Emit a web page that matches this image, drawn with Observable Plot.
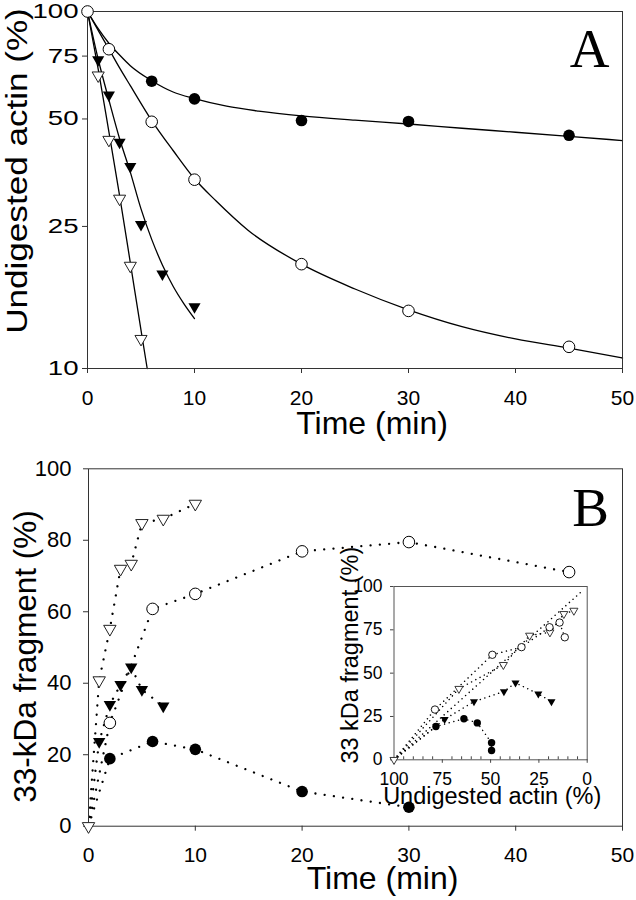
<!DOCTYPE html>
<html><head><meta charset="utf-8">
<script src="https://cdn.jsdelivr.net/npm/d3@7"></script>
<script src="https://cdn.jsdelivr.net/npm/@observablehq/plot@0.6"></script>
<style>
html,body{margin:0;padding:0;background:#fff;}
#wrap{position:relative;width:636px;height:900px;overflow:hidden;background:#fff;}
#a{position:absolute;left:0;top:0;}
#b{position:absolute;left:0;top:450px;}
#inset{position:absolute;left:330px;top:540px;}
</style></head><body>
<div id="wrap"><div id="a"></div><div id="b"></div><div id="inset"></div></div>
<script>
// ---------- Panel A : undigested actin (%) vs time (min), log scale ----------
const timeA_fc = [6, 10, 20, 30, 45];
const undigA_fc = [63.8, 56.9, 49.5, 49.2, 45.0];
const timeA_oc = [0, 2, 6, 10, 20, 30, 45];
const undigA_oc = [100, 78.4, 49.1, 33.8, 19.6, 14.5, 11.5];
const timeA_ft = [1, 2, 3, 4, 5, 7, 10];
const undigA_ft = [73.2, 58.4, 43.0, 36.8, 25.3, 18.4, 14.9];
const timeA_ot = [1, 2, 3, 4, 5];
const undigA_ot = [66.2, 43.7, 29.9, 19.4, 12.1];

// fitted curves
const fitT_fc = [0, 1, 2, 3, 4, 6, 8, 10, 13, 16, 20, 25, 30, 35, 40, 45, 50];
const fitY_fc = [100, 89.5, 81.5, 75.5, 70.5, 64, 59.5, 57, 54.3, 52.6, 51, 49.6, 48.4, 47.1, 45.9, 44.7, 43.5];
const fitT_oc = [0, 1, 2, 3, 4, 6, 8, 10, 12, 15, 20, 25, 30, 35, 40, 45, 50];
const fitY_oc = [100, 88.5, 78.5, 69.5, 62, 49.5, 40.8, 34, 29.5, 24.4, 19.6, 16.7, 14.6, 13.1, 12.1, 11.4, 10.7];
const fitT_ft = [0, 1, 2, 3, 4, 5, 6, 7, 8, 9, 10];
const fitY_ft = [100, 73.5, 56.5, 44, 35.5, 28, 23, 19.5, 17, 15.2, 13.8];
const fitT_ot = [0, 1, 2, 3, 4, 5, 5.58];
const fitY_ot = [100, 69, 46, 30.5, 19.8, 12.8, 10];

const xTicks = [0, 10, 20, 30, 40, 50];
const yTicksA = [10, 25, 50, 75, 100];

// ---------- Panel B : 33-kDa fragment (%) vs time (min) ----------
const timeB_ot = [0, 1, 2, 3, 4, 5, 7, 10];
const fragB_ot = [0, 40.8, 55.2, 72, 73.4, 84.8, 86, 90.2];
const timeB_oc = [0, 2, 6, 10, 20, 30, 45];
const fragB_oc = [0, 28.9, 60.8, 65, 76.9, 79.5, 71.1];
const timeB_ft = [0, 1, 2, 3, 4, 5, 7];
const fragB_ft = [0, 23.7, 34, 39.6, 44.5, 38.2, 33.6];
const timeB_fc = [0, 2, 6, 10, 20, 30];
const fragB_fc = [0, 18.9, 23.7, 21.5, 9.7, 5.3];
const yTicksB = [0, 20, 40, 60, 80, 100];

// ---------- Inset : 33 kDa fragment (%) vs undigested actin (%) ----------
const insUndig_ot = [100, 66.4, 43.4, 29.8, 19.3, 12.1, 6.9];
const insFrag_ot = [0, 41, 54.8, 71.7, 73.6, 84.2, 86.1];
const insUndig_oc = [100, 78.8, 49.1, 34, 19.5, 14.3, 11.6];
const insFrag_oc = [0, 29, 60.6, 65, 76.5, 79.2, 70.7];
const insUndig_ft = [100, 73.8, 58.6, 43.1, 37.1, 25.3, 18.5];
const insFrag_ft = [0, 23.4, 33.6, 39.4, 44.4, 38, 33.6];
const insUndig_fc = [100, 78.3, 63.8, 56.9, 49.5, 49.5];
const insFrag_fc = [0, 19.2, 23.7, 21.3, 9.8, 5.4];
const insDiagUndig = [100, 2.5];
const insDiagFrag = [0, 97.5];
const insTicks = [0, 25, 50, 75, 100];
const insMinorTicks = [5, 10, 15, 20, 30, 35, 40, 45, 55, 60, 65, 70, 80, 85, 90, 95];

// ---------- helpers ----------
const pts = (xs, ys) => xs.map((x, i) => ({x, y: ys[i]}));
const triDown = {
  draw(ctx, size) {
    const y = Math.sqrt(size / (3 * Math.sqrt(3)));
    ctx.moveTo(0, 2 * y);
    ctx.lineTo(-Math.sqrt(3) * y, -y);
    ctx.lineTo(Math.sqrt(3) * y, -y);
    ctx.closePath();
  }
};
const FONT = "'Liberation Sans', Arial, Helvetica, sans-serif";
const SERIF = "'Liberation Serif', 'Times New Roman', serif";
const baseStyle = {fontFamily: FONT, fontSize: "21px", color: "black", background: "white"};

function markers(fc, oc, ft, ot, rc, rt, sw) {
  return [
    Plot.dot(fc, {x: "x", y: "y", r: rc, fill: "black", stroke: "none"}),
    Plot.dot(ft, {x: "x", y: "y", r: rt, symbol: triDown, fill: "black", stroke: "none"}),
    Plot.dot(ot, {x: "x", y: "y", r: rt, symbol: triDown, fill: "white", stroke: "#222", strokeWidth: sw}),
    Plot.dot(oc, {x: "x", y: "y", r: rc, fill: "white", stroke: "black", strokeWidth: sw})
  ];
}

// ---------- Panel A ----------
const plotA = Plot.plot({
  width: 636, height: 450,
  marginLeft: 87, marginRight: 14, marginTop: 11, marginBottom: 82,
  style: baseStyle,
  x: {domain: [0, 50]},
  y: {type: "log", domain: [10, 100]},
  marks: [
    Plot.line(pts(fitT_fc, fitY_fc), {x: "x", y: "y", curve: "monotone-x", stroke: "black", strokeWidth: 1.3}),
    Plot.line(pts(fitT_oc, fitY_oc), {x: "x", y: "y", curve: "monotone-x", stroke: "black", strokeWidth: 1.3}),
    Plot.line(pts(fitT_ft, fitY_ft), {x: "x", y: "y", curve: "monotone-x", stroke: "black", strokeWidth: 1.3}),
    Plot.line(pts(fitT_ot, fitY_ot), {x: "x", y: "y", curve: "monotone-x", stroke: "black", strokeWidth: 1.3}),
    Plot.frame({stroke: "#333", strokeWidth: 1}),
    Plot.axisX(xTicks, {tickSize: 5, tickPadding: 17, fontSize: 21, stroke: "#333", label: null, tickFormat: d => String(d)}),
    Plot.axisY(yTicksA, {tickSize: 5, tickPadding: 4, fontSize: 20, stroke: "#333", label: null, tickFormat: d => String(d)}),
    ...markers(pts(timeA_fc, undigA_fc), pts(timeA_oc, undigA_oc), pts(timeA_ft, undigA_ft), pts(timeA_ot, undigA_ot), 5.8, 4.5, 1),
    Plot.text(["Undigested actin (%)"], {frameAnchor: "left", textAnchor: "middle", rotate: -90, dx: -70, dy: -19, fontSize: 30, fill: "black"}),
    Plot.text(["Time (min)"], {frameAnchor: "bottom", textAnchor: "middle", lineAnchor: "top", dx: 17, dy: 43, fontSize: 32, fill: "black"}),
    Plot.text(["A"], {frameAnchor: "top-right", textAnchor: "end", lineAnchor: "top", dx: -13, dy: 16.7, fontSize: 55, fontFamily: SERIF, fill: "black"})
  ]
});

// ---------- Panel B ----------
const dotted = {stroke: "black", strokeWidth: 2.3, strokeDasharray: "0.01,9.3", strokeLinecap: "round"};
const nz = d => d.x > 0;
const plotB = Plot.plot({
  width: 636, height: 450,
  marginLeft: 88, marginRight: 14, marginTop: 18.3, marginBottom: 74.3,
  style: baseStyle,
  x: {domain: [0, 50]},
  y: {domain: [0, 100]},
  marks: [
    Plot.line(pts(timeB_ot, fragB_ot), {x: "x", y: "y", ...dotted}),
    Plot.line(pts(timeB_oc, fragB_oc), {x: "x", y: "y", ...dotted}),
    Plot.line(pts(timeB_ft, fragB_ft), {x: "x", y: "y", ...dotted}),
    Plot.line(pts(timeB_fc, fragB_fc), {x: "x", y: "y", ...dotted}),
    Plot.frame({stroke: "#333", strokeWidth: 1}),
    Plot.axisX(xTicks, {tickSize: 5, tickPadding: 16, fontSize: 21, stroke: "#333", label: null, tickFormat: d => String(d)}),
    Plot.axisY(yTicksB, {tickSize: 5, tickPadding: 12, fontSize: 22, stroke: "#333", label: null, tickFormat: d => String(d)}),
    ...markers(pts(timeB_fc, fragB_fc).filter(nz), pts(timeB_oc, fragB_oc).filter(nz), pts(timeB_ft, fragB_ft).filter(nz), pts(timeB_ot, fragB_ot), 5.8, 4.6, 1),
    Plot.text(["33-kDa fragment (%)"], {frameAnchor: "left", textAnchor: "middle", rotate: -90, dx: -63, dy: 9, fontSize: 31.5, fill: "black"}),
    Plot.text(["Time (min)"], {frameAnchor: "bottom", textAnchor: "middle", lineAnchor: "top", dx: 27, dy: 39.6, fontSize: 32, fill: "black"}),
    Plot.text(["B"], {frameAnchor: "top-right", textAnchor: "end", lineAnchor: "top", dx: -13.5, dy: 17.7, fontSize: 55, fontFamily: SERIF, fill: "black"})
  ]
});

// ---------- Inset ----------
const dottedI = {stroke: "black", strokeWidth: 1.5, strokeDasharray: "0.01,4.8", strokeLinecap: "round"};
const plotI = Plot.plot({
  width: 280, height: 270,
  marginLeft: 63.5, marginRight: 23.3, marginTop: 46, marginBottom: 50.7,
  style: {...baseStyle, background: "transparent", fontSize: "17px"},
  x: {domain: [100, 0]},
  y: {domain: [0, 100]},
  marks: [
    Plot.line(pts(insDiagUndig, insDiagFrag), {x: "x", y: "y", ...dottedI}),
    Plot.line(pts(insUndig_ot, insFrag_ot), {x: "x", y: "y", ...dottedI}),
    Plot.line(pts(insUndig_oc, insFrag_oc), {x: "x", y: "y", ...dottedI}),
    Plot.line(pts(insUndig_ft, insFrag_ft), {x: "x", y: "y", ...dottedI}),
    Plot.line(pts(insUndig_fc, insFrag_fc), {x: "x", y: "y", ...dottedI}),
    Plot.frame({stroke: "#555", strokeWidth: 1}),
    Plot.tickX(insMinorTicks, {x: d => d, insetTop: 170.3, stroke: "#444", strokeWidth: 1}),
    Plot.axisX(insTicks, {tickSize: 3.5, tickPadding: 9, fontSize: 17.5, stroke: "#444", label: null, tickFormat: d => String(d)}),
    Plot.axisY(insTicks, {tickSize: 3.5, tickPadding: 8, fontSize: 17.5, stroke: "#444", label: null, tickFormat: d => String(d)}),
    ...markers(pts(insUndig_fc, insFrag_fc).filter(d => d.x < 100), pts(insUndig_oc, insFrag_oc).filter(d => d.x < 100), pts(insUndig_ft, insFrag_ft).filter(d => d.x < 100), pts(insUndig_ot, insFrag_ot), 3.7, 3, 0.9),
    Plot.text(["33 kDa fragment (%)"], {frameAnchor: "left", textAnchor: "middle", rotate: -90, dx: -43.5, dy: -18, fontSize: 23.5, fill: "black"}),
    Plot.text(["Undigested actin (%)"], {frameAnchor: "bottom", textAnchor: "middle", lineAnchor: "top", dx: 1.6, dy: 28, fontSize: 23.5, fill: "black"})
  ]
});

document.getElementById("a").appendChild(plotA);
document.getElementById("b").appendChild(plotB);
document.getElementById("inset").appendChild(plotI);

// Stretch texts as in the original (panel A y tick labels wider, panel A y title longer):
// wrap each text in a <g> scaled about a pivot point of its box, in parent coordinates.
function stretchText(t, sx, sy, pivot) {
  const bb = t.getBBox();
  const lx = pivot === "right" ? bb.x + bb.width : bb.x + bb.width / 2;
  const ly = bb.y + bb.height / 2;
  const c = t.transform && t.transform.baseVal.consolidate();
  const m = c ? c.matrix : {a: 1, b: 0, c: 0, d: 1, e: 0, f: 0};
  const px = m.a * lx + m.c * ly + m.e;
  const py = m.b * lx + m.d * ly + m.f;
  const g = document.createElementNS("http://www.w3.org/2000/svg", "g");
  g.setAttribute("transform", `translate(${px},${py}) scale(${sx},${sy}) translate(${-px},${-py})`);
  t.parentNode.insertBefore(g, t);
  g.appendChild(t);
}
const tickStrA = yTicksA.map(String);
const svgLeft = plotA.getBoundingClientRect().left;
Array.from(plotA.querySelectorAll("text")).forEach(t => {
  const txt = t.textContent.trim();
  const r = t.getBoundingClientRect();
  if (txt === "Undigested actin (%)") stretchText(t, 1, 1.17, "center");
  else if (tickStrA.includes(txt) && r.right - svgLeft < 86) stretchText(t, 1.38, 1, "right");
});
</script>
</body></html>
